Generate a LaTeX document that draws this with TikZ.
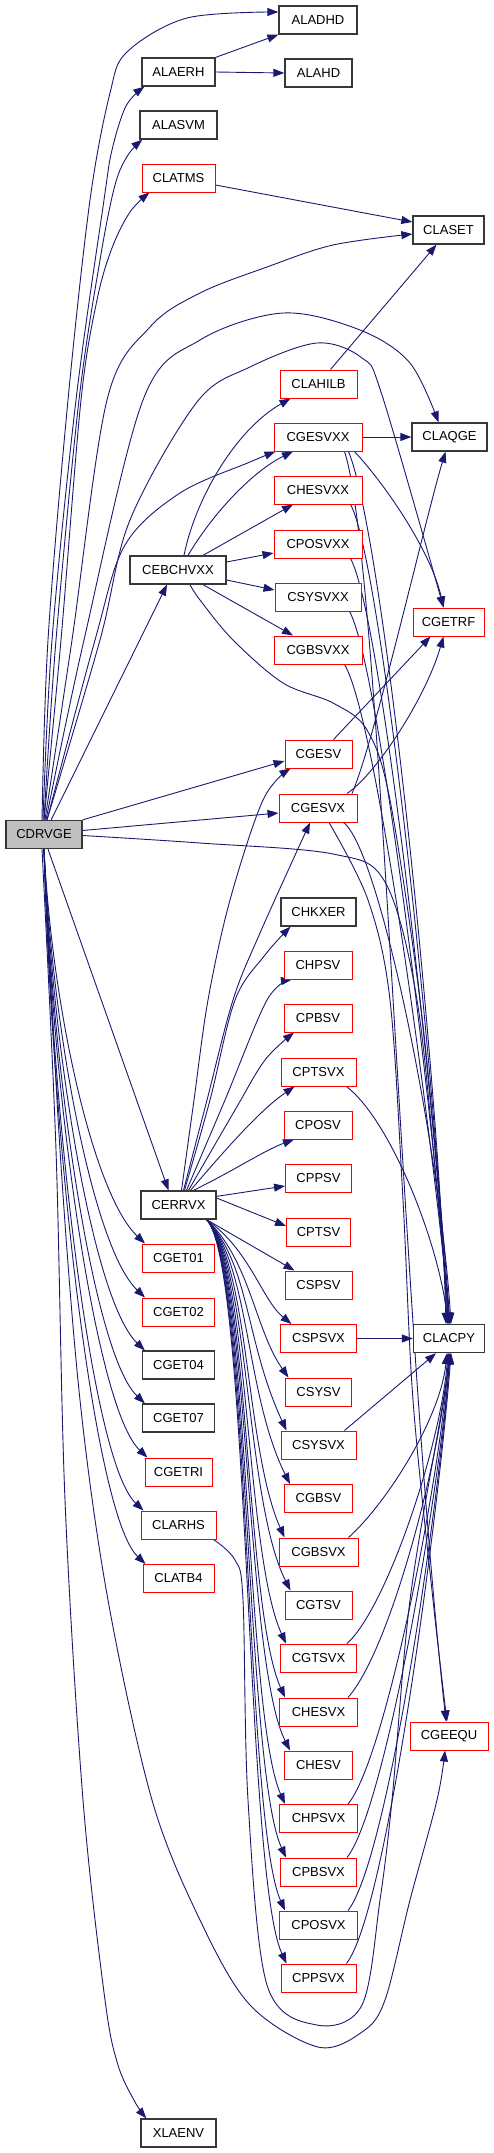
\documentclass[tikz,border=0pt]{standalone}
\usepackage{fontspec}
\setmainfont{Liberation Sans}
\usetikzlibrary{arrows.meta}
\definecolor{edgec}{HTML}{191970}
\definecolor{bordk}{HTML}{383838}
\definecolor{fillg}{HTML}{BFBFBF}
\pgfdeclarelayer{bg}
\pgfsetlayers{bg,main}
\newcommand\mk[5]{\node[#5, minimum width=#4pt] (#1) at (#2,#3) {#1};}
\begin{document}
\begin{tikzpicture}[x=1pt,y=-1pt,
  nb/.style={draw=bordk, line width=1.3pt, fill=white, minimum height=28pt, inner sep=0pt, font=\fontsize{13}{15}\selectfont},
  nr/.style={nb, draw=red, line width=1pt},
  ng/.style={nb, fill=fillg},
  edg/.style={draw=edgec, line width=0.9pt, -{Triangle[length=11pt,width=8pt]}}]
\useasboundingbox (0,0) rectangle (493,2153);
\mk{ALADHD}{318}{20}{78}{nb}
\mk{ALAERH}{178.5}{72}{73}{nb}
\mk{ALAHD}{318.5}{73}{67}{nb}
\mk{ALASVM}{178.5}{125}{77}{nb}
\mk{CLATMS}{178.5}{178}{73}{nr}
\mk{CLASET}{448.5}{230}{71}{nb}
\mk{CLAHILB}{318.5}{384}{77}{nr}
\mk{CGESVXX}{318}{437}{88}{nr}
\mk{CLAQGE}{449.5}{437}{75}{nb}
\mk{CHESVXX}{318}{490}{88}{nr}
\mk{CPOSVXX}{318}{544}{88}{nr}
\mk{CEBCHVXX}{178}{570}{96}{nb}
\mk{CSYSVXX}{318}{597}{86}{nr}
\mk{CGETRF}{448.5}{622}{71}{nr}
\mk{CGBSVXX}{318}{650}{88}{nr}
\mk{CGESV}{318.5}{754}{67}{nr}
\mk{CGESVX}{318}{808}{78}{nr}
\mk{CDRVGE}{44}{834.5}{76}{ng}
\mk{CHKXER}{318.5}{912}{75}{nb}
\mk{CHPSV}{318}{965}{68}{nr}
\mk{CPBSV}{318}{1018}{68}{nr}
\mk{CPTSVX}{318.5}{1072}{75}{nr}
\mk{CPOSV}{318}{1125}{68}{nr}
\mk{CPPSV}{318.5}{1178}{66}{nr}
\mk{CERRVX}{178.5}{1205}{75}{nb}
\mk{CPTSV}{318.5}{1232}{64}{nr}
\mk{CGET01}{178.5}{1258}{72}{nr}
\mk{CSPSV}{318.5}{1285}{67}{nr}
\mk{CGET02}{178.5}{1312}{72}{nr}
\mk{CSPSVX}{318.5}{1338.5}{76}{nr}
\mk{CLACPY}{449}{1338.5}{71}{nb}
\mk{CGET04}{178.5}{1365}{72}{nb}
\mk{CSYSV}{318.5}{1392}{66}{nr}
\mk{CGET07}{178.5}{1418}{72}{nb}
\mk{CSYSVX}{318.5}{1445}{75}{nr}
\mk{CGETRI}{178.5}{1472}{67}{nr}
\mk{CGBSV}{318.5}{1498.5}{68}{nr}
\mk{CLARHS}{178.5}{1525}{75}{nr}
\mk{CGBSVX}{318.5}{1552}{79}{nr}
\mk{CLATB4}{178.5}{1578.5}{71}{nr}
\mk{CGTSV}{318.5}{1605}{67}{nr}
\mk{CGTSVX}{318.5}{1658}{76}{nr}
\mk{CHESVX}{318.5}{1712}{78}{nr}
\mk{CGEEQU}{449}{1736}{78}{nr}
\mk{CHESV}{318.5}{1765}{68}{nr}
\mk{CHPSVX}{318.5}{1818.5}{78}{nr}
\mk{CPBSVX}{318.5}{1872}{76}{nr}
\mk{CPOSVX}{318.5}{1925}{78}{nr}
\mk{CPPSVX}{318.5}{1978}{75}{nr}
\mk{XLAENV}{178.5}{2133}{75}{nb}
\begin{pgfonlayer}{bg}
% CDRVGE upward
\draw[edg] plot[smooth,tension=0.55] coordinates {([xshift=-2pt]CDRVGE.north) (48,640) (68,400) (90,200) (110,93) (127,52) (187,18) ([yshift=8pt]ALADHD.west)};
\draw[edg] plot[smooth,tension=0.55] coordinates {([xshift=-1pt]CDRVGE.north) (52,640) (76,400) (104,200) (112,150) (126,106) ([xshift=3pt]ALAERH.south west)};
\draw[edg] plot[smooth,tension=0.55] coordinates {(CDRVGE.north) (56,640) (79,400) (100,260) (115,185) (128,155) ([xshift=3pt]ALASVM.south west)};
\draw[edg] plot[smooth,tension=0.55] coordinates {(CDRVGE.north) (61,640) (81,400) (97,300) (112,248) (130,212) ([xshift=8pt]CLATMS.south west)};
\draw[edg] plot[smooth,tension=0.55] coordinates {([xshift=1pt]CDRVGE.north) (72,640) (107,400) (150,327) (200,293) (267,267) (333,245) ([yshift=-4pt]CLASET.west)};
\draw[edg] plot[smooth,tension=0.55] coordinates {([xshift=2pt]CDRVGE.north) (84,640) (143,400) (200,340) (283,313) (360,330) (410,363) ([xshift=-11pt]CLAQGE.north)};
\draw[edg] plot[smooth,tension=0.55] coordinates {([xshift=3pt]CDRVGE.north) (100,640) (130,520) (197,402) (250,367) (317,343) (362,358) (382,395) ([xshift=-5pt]CGETRF.north)};
\draw[edg] plot[smooth,tension=0.55] coordinates {([xshift=3pt]CDRVGE.north) (95,640) (125,545) (180,493) (250,462) ([xshift=2pt]CGESVXX.south west)};
\draw[edg] (CDRVGE) -- ([xshift=-11pt]CEBCHVXX.south);
\draw[edg] (CDRVGE.north east) -- ([yshift=-7pt]CGESV.west);
\draw[edg] ([yshift=4pt]CDRVGE.east) -- ([yshift=-5pt]CGESVX.west);
\draw[edg] plot[smooth,tension=0.55] coordinates {([yshift=-1pt]CDRVGE.east) (200,843) (333,854) (385,882) (417,1000) (438,1200) (CLACPY.north)};
\draw[edg] ([xshift=4pt]CDRVGE.south) -- ([xshift=-10pt]CERRVX.north);
% CDRVGE downward
\draw[edg] (CDRVGE.south) .. controls (52,1007) and (93,1194) .. ([xshift=3pt]CGET01.north west);
\draw[edg] (CDRVGE.south) .. controls (52,1029) and (93,1248) .. ([xshift=3pt]CGET02.north west);
\draw[edg] (CDRVGE.south) .. controls (52,1050) and (93,1301) .. ([xshift=3pt]CGET04.north west);
\draw[edg] (CDRVGE.south) .. controls (52,1071) and (93,1354) .. ([xshift=3pt]CGET07.north west);
\draw[edg] (CDRVGE.south) .. controls (52,1093) and (95,1408) .. ([xshift=3pt]CGETRI.north west);
\draw[edg] (CDRVGE.south) .. controls (52,1114) and (91,1461) .. ([xshift=3pt]CLARHS.north west);
\draw[edg] (CDRVGE.south) .. controls (52,1135) and (93,1514) .. ([xshift=3pt]CLATB4.north west);
\draw[edg] plot[smooth,tension=0.55] coordinates {(CDRVGE.south) (60,1150) (80,1400) (108,1600) (152,1800) (200,1920) (250,2005) (318,2047) (362,2032) (385,2000) (410,1900) (437,1800) ([xshift=-4pt]CGEEQU.south)};
\draw[edg] plot[smooth,tension=0.55] coordinates {([xshift=-2pt]CDRVGE.south) (56,1150) (65,1500) (83,1800) (105,2000) (118,2065) (135,2102) ([xshift=6pt]XLAENV.north west)};
% misc
\draw[edg] (ALAERH.north east) -- (ALADHD.south west);
\draw[edg] (ALAERH.east) -- (ALAHD.west);
\draw[edg] ([yshift=-7pt]CLATMS.east) -- ([yshift=8pt]CLASET.west);
\draw[edg] ([xshift=12pt]CLAHILB.north) -- ([xshift=-12pt]CLASET.south);
\draw[edg] ([xshift=6pt]CEBCHVXX.north) .. controls (195,500) and (235,430) .. ([xshift=-28pt]CLAHILB.south);
\draw[edg] ([xshift=10pt]CEBCHVXX.north) .. controls (215,510) and (255,470) .. ([xshift=-25pt]CGESVXX.south);
\draw[edg] ([xshift=25pt]CEBCHVXX.north) -- ([xshift=-25pt]CHESVXX.south);
\draw[edg] ([yshift=8pt]CEBCHVXX.east) -- ([yshift=-9pt]CPOSVXX.west);
\draw[edg] ([yshift=-10pt]CEBCHVXX.east) -- ([yshift=7pt]CSYSVXX.west);
\draw[edg] ([xshift=25pt]CEBCHVXX.south) -- ([xshift=-25pt]CGBSVXX.north);
\draw[edg] plot[smooth,tension=0.55] coordinates {([xshift=12pt]CEBCHVXX.south) (200,600) (233,640) (283,683) (333,703) (367,730) (390,800) (420,1000) (440,1200) ([xshift=1pt]CLACPY.north)};
\draw[edg] (CGESVXX.east) -- (CLAQGE.west);
\draw[edg] ([xshift=-8pt]CGESVXX.south east) .. controls (390,490) and (432,555) .. ([xshift=-5pt]CGETRF.north);
\draw[edg] ([xshift=-14pt]CGESVXX.south east) .. controls (385,540) and (440,1100) .. ([xshift=-3pt]CLACPY.north);
\draw[edg] ([xshift=-18pt]CGESVXX.south east) .. controls (380,560) and (400,1300) .. ([xshift=-3pt]CGEEQU.north);
\draw[edg] ([xshift=15pt]CGESV.north) -- ([xshift=-18pt]CGETRF.south);
\draw[edg] ([xshift=29pt]CGESVX.north) .. controls (375,775) and (425,700) .. ([xshift=-5pt]CGETRF.south);
\draw[edg] ([xshift=34pt]CGESVX.north) .. controls (375,740) and (425,520) .. ([xshift=-4pt]CLAQGE.south);
\draw[edg] plot[smooth,tension=0.55] coordinates {([xshift=11pt]CGESVX.south) (368,900) (390,1000) (403,1200) (413,1400) (433,1600) ([xshift=-2pt]CGEEQU.north)};
\draw[edg] ([xshift=-14pt]CGESVX.south east) .. controls (380,850) and (440,1150) .. ([xshift=2pt]CLACPY.north);
\draw[edg] ([xshift=-12pt]CHESVXX.south east) .. controls (382,560) and (438,1100) .. ([xshift=-2pt]CLACPY.north);
\draw[edg] ([xshift=-12pt]CPOSVXX.south east) .. controls (382,615) and (437,1120) .. ([xshift=-1pt]CLACPY.north);
\draw[edg] ([xshift=-12pt]CSYSVXX.south east) .. controls (380,665) and (436,1140) .. (CLACPY.north);
\draw[edg] ([xshift=-18pt]CGBSVXX.south east) .. controls (378,720) and (435,1160) .. ([xshift=1pt]CLACPY.north);
\draw[edg] ([xshift=-10pt]CPTSVX.south east) .. controls (390,1120) and (438,1240) .. ([xshift=-1pt]CLACPY.north);
\draw[edg] (CSPSVX.east) -- (CLACPY.west);
\draw[edg] ([xshift=-12pt]CSYSVX.north east) -- ([xshift=-13pt]CLACPY.south);
\draw[edg] ([xshift=-10pt]CGBSVX.north east) .. controls (385,1505) and (440,1420) .. ([xshift=-2pt]CLACPY.south);
\draw[edg] ([xshift=-10pt]CGTSVX.north east) .. controls (385,1610) and (440,1450) .. ([xshift=-1pt]CLACPY.south);
\draw[edg] ([xshift=-10pt]CHESVX.north east) .. controls (390,1650) and (440,1460) .. (CLACPY.south);
\draw[edg] ([xshift=-10pt]CHPSVX.north east) .. controls (385,1760) and (440,1480) .. (CLACPY.south);
\draw[edg] ([xshift=-10pt]CPBSVX.north east) .. controls (385,1810) and (440,1490) .. ([xshift=1pt]CLACPY.south);
\draw[edg] ([xshift=-10pt]CPOSVX.north east) .. controls (388,1860) and (440,1500) .. ([xshift=1pt]CLACPY.south);
\draw[edg] ([xshift=-10pt]CPPSVX.north east) .. controls (388,1910) and (440,1500) .. ([xshift=2pt]CLACPY.south);
\draw[edg] plot[smooth,tension=0.55] coordinates {([xshift=-3pt]CLARHS.south east) (235,1560) (243,1600) (248,1800) (267,1985) (317,2025) (362,2005) (380,1900) (392,1800) (410,1600) (440,1420) ([xshift=2pt]CLACPY.south)};
% CERRVX
\draw[edg] plot[smooth,tension=0.55] coordinates {([xshift=3pt]CERRVX.north) (194,1100) (208,1000) (230,900) (263,800) ([xshift=-28pt]CGESV.south)};
\draw[edg] plot[smooth,tension=0.55] coordinates {([xshift=5pt]CERRVX.north) (207,1100) (233,1000) (260,933) ([xshift=-8pt]CGESVX.south)};
\draw[edg] plot[smooth,tension=0.55] coordinates {([xshift=6pt]CERRVX.north) (210,1100) (235,1000) (265,955) ([xshift=-28pt]CHKXER.south)};
\draw[edg] plot[smooth,tension=0.55] coordinates {([xshift=8pt]CERRVX.north) (225,1100) (267,1000) ([xshift=-26pt]CHPSV.south)};
\draw[edg] plot[smooth,tension=0.55] coordinates {([xshift=10pt]CERRVX.north) (235,1110) (265,1060) ([xshift=-24pt]CPBSV.south)};
\draw[edg] ([xshift=12pt]CERRVX.north) .. controls (225,1150) and (260,1110) .. ([xshift=-24pt]CPTSVX.south);
\draw[edg] ([xshift=15pt]CERRVX.north) .. controls (235,1170) and (265,1150) .. ([xshift=-24pt]CPOSV.south);
\draw[edg] ([yshift=-6pt]CERRVX.north east) -- ([yshift=-8pt]CPPSV.west);
\draw[edg] ([yshift=7pt]CERRVX.east) -- ([yshift=6pt]CPTSV.west);
\draw[edg] ([xshift=-10pt]CERRVX.south east) -- ([xshift=-24pt]CSPSV.north);
\draw[edg] ([xshift=-10pt]CERRVX.south east) .. controls (250,1250) and (262,1300) .. ([xshift=-27pt]CSPSVX.north);
\draw[edg] ([xshift=-10pt]CERRVX.south east) .. controls (250,1260) and (255,1330) .. ([xshift=-30pt]CSYSV.north);
\foreach \t/\ty in {CSYSVX/1431,CGBSV/1484,CGBSVX/1538,CGTSV/1591,CGTSVX/1644,CHESVX/1698,CHESV/1751,CHPSVX/1804,CPBSVX/1858,CPOSVX/1911,CPPSVX/1964}{
  \draw[edg] ([xshift=-10pt]CERRVX.south east) .. controls (250,1265) and (245,\ty-90) .. ([xshift=6pt]\t.north west);
}
\end{pgfonlayer}
\end{tikzpicture}
\end{document}
